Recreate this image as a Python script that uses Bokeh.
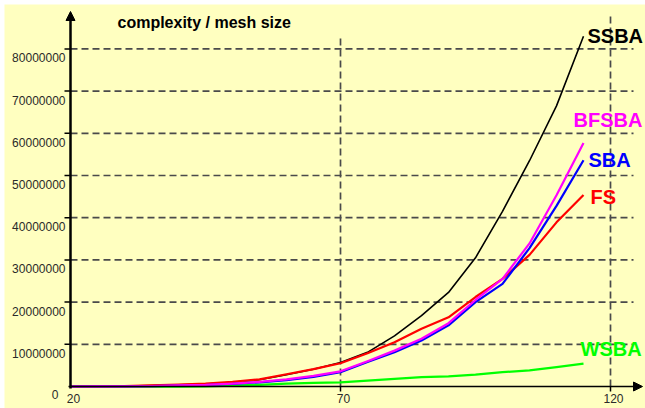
from bokeh.plotting import figure
from bokeh.models import Range1d, Arrow, NormalHead
from bokeh.core.properties import value
from bokeh.embed import file_html
from bokeh.resources import INLINE

# ---- data -------------------------------------------------------------
mesh_size = [20, 25, 30, 35, 40, 45, 50, 55, 60, 65, 70, 75, 80, 85, 90, 95, 100, 105, 110, 115]

ssba = [0.0, 0.05, 0.1, 0.2, 0.4, 0.6, 1.0, 1.6, 2.8, 4.1, 5.7, 8.1, 12.0, 16.8, 22.3, 30.5, 41.5, 53.5, 66.5, 83.0]
fs = [0.0, 0.05, 0.1, 0.25, 0.45, 0.7, 1.1, 1.7, 2.9, 4.1, 5.5, 7.9, 10.5, 13.7, 16.4, 21.2, 25.5, 31.2, 38.9, 45.4]
sba = [0.0, 0.02, 0.05, 0.1, 0.2, 0.35, 0.6, 1.0, 1.5, 2.3, 3.4, 5.8, 8.1, 10.9, 14.5, 20.0, 24.3, 32.8, 42.8, 53.6]
bfsba = [0.0, 0.02, 0.05, 0.1, 0.25, 0.4, 0.7, 1.1, 1.7, 2.5, 3.6, 6.0, 8.5, 11.3, 15.0, 20.5, 25.5, 33.9, 45.3, 57.7]
wsba = [0.0, 0.0, 0.0, 0.0, 0.0, 0.05, 0.2, 0.4, 0.7, 0.85, 1.0, 1.4, 1.8, 2.2, 2.4, 2.8, 3.4, 3.8, 4.6, 5.4]

series_names = ["SSBA", "WSBA", "FS", "SBA", "BFSBA"]
series_values = [ssba, wsba, fs, sba, bfsba]   # millions

y_ticks = [0, 10000000, 20000000, 30000000, 40000000, 50000000, 60000000, 70000000, 80000000]
y_tick_labels = ["0", "10000000", "20000000", "30000000", "40000000", "50000000", "60000000", "70000000", "80000000"]
x_ticks = [20, 70, 120]
x_tick_labels = ["20", "70", "120"]
title_text = "complexity / mesh size"

# ---- geometry helpers (pixels <-> data) --------------------------------
W, H = 645, 408
LEFT, TOP = 4, 4
X0_PX, X_SCALE = 70.0, 5.4          # x=20 sits at 70px, 5.4 px per unit
Y0_PX, Y_SCALE = 386.0, 42.2e-7     # y=0 sits at 386px, 42.2 px per 10M

def px_x(px):
    return 20 + (px - X0_PX) / X_SCALE

def px_y(py):
    return (Y0_PX - py) / Y_SCALE

def dx(px):
    return px / X_SCALE

def dy(py):
    return py / Y_SCALE

p = figure(width=W, height=H, output_backend="svg", toolbar_location=None,
           x_range=Range1d(px_x(LEFT), px_x(W)), y_range=Range1d(px_y(H), px_y(TOP)),
           min_border_left=LEFT, min_border_top=TOP, min_border_right=0, min_border_bottom=0,
           background_fill_color="#FFFFC0", border_fill_color="white",
           outline_line_color=None)
p.axis.visible = False
p.grid.visible = False

FONT = value("Liberation Sans")
GRID_COLOR = "#4a4a4a"

# dashed grid
h_vals = y_ticks[1:]
p.segment(x0=[20] * len(h_vals), y0=h_vals, x1=[px_x(633)] * len(h_vals), y1=h_vals,
          line_color=GRID_COLOR, line_width=1.7, line_dash="7 4")
p.segment(x0=x_ticks[1:], y0=[0, 0], x1=x_ticks[1:], y1=[px_y(35), px_y(13)],
          line_color=GRID_COLOR, line_width=1.7, line_dash="7 4")

# tick marks
p.segment(x0=[px_x(64)] * len(h_vals), y0=h_vals, x1=[20] * len(h_vals), y1=h_vals,
          line_color="black", line_width=1.5)
p.segment(x0=x_ticks[1:], y0=[0, 0], x1=x_ticks[1:], y1=[-dy(5)] * 2,
          line_color="black", line_width=1.5)

# axes with arrow heads
p.add_layout(Arrow(x_start=20, y_start=-dy(2), x_end=20, y_end=px_y(11),
                   line_color="black", line_width=2.5,
                   end=NormalHead(size=9, fill_color="black", line_color="black")))
p.add_layout(Arrow(x_start=px_x(68), y_start=0, x_end=px_x(642), y_end=0,
                   line_color="black", line_width=1.6,
                   end=NormalHead(size=9, fill_color="black", line_color="black")))

# curves
styles = {
    "SSBA": ("black", 1.6),
    "WSBA": ("#00FF00", 2.3),
    "FS": ("#FF0000", 2.2),
    "SBA": ("#0000FF", 2.2),
    "BFSBA": ("#FF00FF", 2.2),
}
for name, vals in zip(series_names, series_values):
    color, lw = styles[name]
    p.line(mesh_size, [v * 1e6 for v in vals], line_color=color, line_width=lw,
           line_join="round")

# series labels at the end of each curve
label_shift = {  # pixel shifts from the last point
    "SSBA": (4, 0),
    "BFSBA": (-10, -23),
    "SBA": (5, 0),
    "FS": (7, 2),
    "WSBA": (-3, -15),
}
for name, vals in zip(series_names, series_values):
    sx, sy = label_shift[name]
    p.text(x=[mesh_size[-1] + dx(sx)], y=[vals[-1] * 1e6 - dy(sy)], text=[name],
           text_font=FONT, text_font_size="20px", text_font_style="bold",
           text_color=styles[name][0], text_align="left", text_baseline="middle")

# tick labels
ylab_x = [px_x(58) if v == 0 else px_x(65) for v in y_ticks]
ylab_y = [v - dy(7.5 if v == 0 else 9) for v in y_ticks]
p.text(x=ylab_x, y=ylab_y, text=y_tick_labels, text_font=FONT, text_font_size="12px",
       text_color="#2a2a2a", text_align="right", text_baseline="middle")
p.text(x=[t + dx(3) for t in x_ticks], y=[-dy(12)] * len(x_ticks), text=x_tick_labels,
       text_font=FONT, text_font_size="12px", text_color="#2a2a2a",
       text_align="center", text_baseline="middle")

# title
p.text(x=[px_x(117)], y=[px_y(22)], text=[title_text], text_font=FONT,
       text_font_size="16px", text_font_style="bold", text_color="black",
       text_align="left", text_baseline="middle")

open("out.html", "w").write(file_html(p, INLINE))
